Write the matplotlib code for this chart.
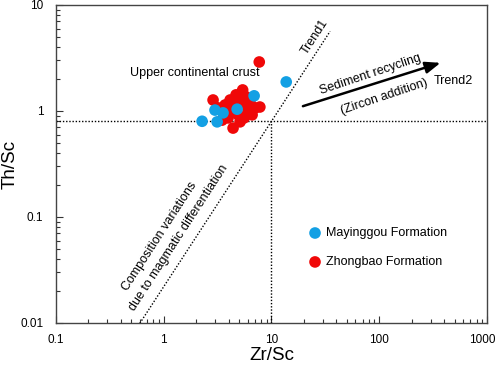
import matplotlib
matplotlib.use("Agg")
import matplotlib.pyplot as plt
import matplotlib.transforms as mtransforms
import numpy as np

plt.rcParams['font.family'] = ['Liberation Sans', 'DejaVu Sans']

# Data (Zr/Sc, Th/Sc)
may_zr = [2.27, 2.99, 3.13, 3.55, 4.8, 6.9, 13.7]
may_th = [0.80, 1.02, 0.79, 0.96, 1.04, 1.39, 1.88]

zho_zr = [3.71, 4.13, 4.59, 5.11, 5.69, 6.07, 6.33, 4.31, 4.90, 5.57, 3.95, 3.48,
          5.11, 6.61, 4.69, 5.81, 3.79, 3.19, 7.05, 7.7, 2.87, 5.4, 4.4, 7.8]
zho_th = [1.14, 1.27, 1.19, 1.27, 1.14, 1.02, 1.19, 0.98, 0.92, 0.86, 0.86, 0.82,
          0.79, 0.92, 1.42, 1.36, 1.02, 1.07, 1.07, 2.9, 1.27, 1.58, 0.69, 1.09]

x_ticks = [0.1, 1, 10, 100, 1000]
x_labels = ['0.1', '1', '10', '100', '1000']
y_ticks = [0.01, 0.1, 1, 10]
y_labels = ['0.01', '0.1', '1', '10']

trend1_x = [0.6, 35]
ref_point = (10, 0.8)
trend1_slope = 1.56
arrow_start = (18.5, 1.09)
arrow_end = (392, 2.9)

blue = '#13A0E4'
red = '#F00808'

fig = plt.figure(figsize=(4.98, 3.67), dpi=100)
ax = fig.add_axes([0.1124, 0.1199, 0.8655, 0.8665])
ax.set_xscale('log')
ax.set_yscale('log')
ax.set_xlim(0.1, 1000)
ax.set_ylim(0.01, 10)

# reference lines
dot = (0, (1, 1.3))
ax.plot([0.1, 1000], [0.8, 0.8], color='black', ls=dot, lw=1)
ax.plot([10, 10], [0.01, 0.8], color='black', ls=dot, lw=1)
t1x = np.array(trend1_x)
t1y = ref_point[1] * (t1x / ref_point[0]) ** trend1_slope
ax.plot(t1x, t1y, color='black', ls=dot, lw=1)

ax.annotate('', xy=arrow_end, xytext=arrow_start,
            arrowprops=dict(arrowstyle='-|>,head_length=0.9,head_width=0.35',
                            color='black', lw=1.8))

ax.scatter(zho_zr, zho_th, s=70, color=red, edgecolors='none', zorder=3)
ax.scatter(may_zr, may_th, s=70, color=blue, edgecolors='none', zorder=4)

fs = 9
ax.text(1.95, 2.28, 'Upper continental crust', fontsize=fs, ha='center', va='center')
ax.text(25.4, 5.0, 'Trend1', fontsize=fs, rotation=57, ha='center', va='center')
ax.text(82, 2.19, 'Sediment recycling', fontsize=fs, rotation=18.5, ha='center', va='center')
ax.text(111, 1.36, '(Zircon addition)', fontsize=fs, rotation=18.5, ha='center', va='center')
ax.text(485, 1.92, 'Trend2', fontsize=fs, ha='center', va='center')
ax.text(0.925, 0.066, 'Composition variations', fontsize=fs, rotation=57, ha='center', va='center')
ax.text(1.39, 0.063, 'due to magmatic differentiation', fontsize=fs, rotation=57, ha='center', va='center')

# legend
ax.scatter([0.601], [0.283], s=70, color=blue, edgecolors='none', transform=ax.transAxes, clip_on=False)
ax.scatter([0.601], [0.192], s=70, color=red, edgecolors='none', transform=ax.transAxes, clip_on=False)
ax.text(0.627, 0.283, 'Mayinggou Formation', fontsize=fs, transform=ax.transAxes, va='center')
ax.text(0.627, 0.192, 'Zhongbao Formation', fontsize=fs, transform=ax.transAxes, va='center')

ax.set_xticks(x_ticks)
ax.set_xticklabels(x_labels)
ax.set_yticks(y_ticks)
ax.set_yticklabels(y_labels)
ax.tick_params(which='major', direction='in', length=5, width=0.8, labelsize=8.5, color='#333333')
ax.tick_params(axis='x', which='major', pad=8)
ax.tick_params(axis='y', which='major', pad=9)
ax.tick_params(which='minor', direction='in', length=3, width=0.8, color='#333333')
for s in ax.spines.values():
    s.set_color('#444444')
    s.set_linewidth(1)

# nudge the last x tick label left so it fits inside the figure
last = ax.xaxis.get_major_ticks()[-1].label1
last.set_transform(last.get_transform() + mtransforms.ScaledTranslation(-5 / 100, 0, fig.dpi_scale_trans))

ax.set_xlabel('Zr/Sc', fontsize=13.5, labelpad=1)
ax.set_ylabel('Th/Sc', fontsize=13.5, labelpad=1)

fig.savefig('out.png', dpi=100)
